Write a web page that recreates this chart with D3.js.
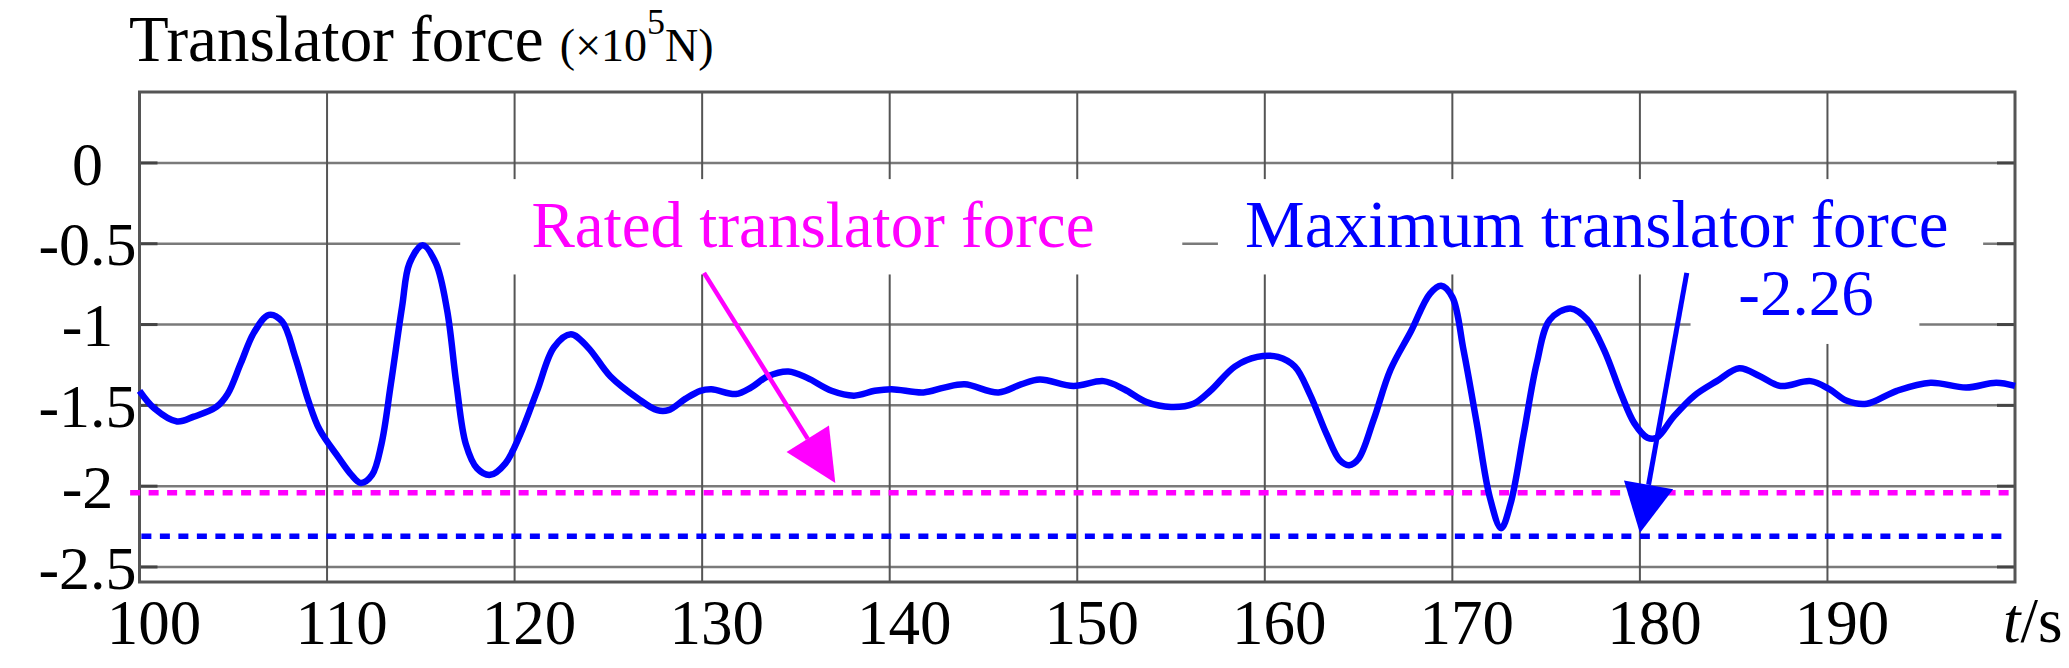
<!DOCTYPE html>
<html>
<head>
<meta charset="utf-8">
<script src="https://cdn.jsdelivr.net/npm/d3@7"></script>
<style>
  html, body { margin: 0; padding: 0; background: #fff; }
  svg { display: block; }
  text { font-family: "Liberation Serif", "Times New Roman", serif; }
</style>
</head>
<body>
<div id="chart"></div>
<script>
// time axis (s) and translator force (x10^5 N)
const timeValues = [
  100.0, 100.8, 102.0, 102.9, 104.1, 104.7, 105.4, 106.1, 106.9, 107.6,
  108.3, 109.0, 109.6, 110.6, 111.3, 111.8, 112.4, 112.9, 113.4, 114.0,
  114.4, 115.1, 115.8, 116.4, 116.9, 117.4, 118.0, 118.7, 119.5, 120.3,
  121.2, 122.1, 123.0, 123.9, 125.1, 126.6, 127.6, 128.2, 129.1, 129.9,
  130.5, 131.8, 132.6, 133.5, 134.6, 135.6, 136.9, 138.1, 139.2, 140.1,
  141.8, 142.9, 144.0, 145.8, 147.0, 148.0, 149.8, 151.4, 152.5, 153.7,
  155.0, 156.2, 157.1, 158.4, 159.6, 160.7, 161.6, 162.4, 163.3, 164.0,
  164.5, 165.0, 165.8, 166.7, 167.8, 168.8, 169.4, 170.0, 170.6, 171.3,
  172.0, 172.6, 173.1, 173.8, 174.5, 175.2, 176.3, 177.2, 178.1, 179.0,
  179.7, 180.4, 180.9, 181.8, 182.9, 184.1, 185.3, 186.4, 187.5, 189.1,
  190.1, 191.0, 192.1, 193.7, 195.5, 197.4, 199.0, 200.0
];
const forceValues = [
  -1.41, -1.52, -1.60, -1.57, -1.51, -1.43, -1.24, -1.05, -0.94, -0.98,
  -1.20, -1.47, -1.65, -1.82, -1.93, -1.98, -1.93, -1.74, -1.37, -0.89,
  -0.62, -0.51, -0.62, -0.91, -1.37, -1.74, -1.89, -1.93, -1.86, -1.68,
  -1.41, -1.14, -1.06, -1.14, -1.32, -1.46, -1.53, -1.53, -1.46, -1.41,
  -1.40, -1.43, -1.39, -1.32, -1.29, -1.33, -1.41, -1.44, -1.41, -1.40,
  -1.42, -1.39, -1.37, -1.42, -1.37, -1.34, -1.38, -1.35, -1.40, -1.48,
  -1.51, -1.49, -1.41, -1.26, -1.20, -1.20, -1.26, -1.43, -1.68, -1.84,
  -1.87, -1.83, -1.59, -1.28, -1.04, -0.81, -0.76, -0.83, -1.16, -1.61,
  -2.07, -2.26, -2.11, -1.68, -1.24, -0.97, -0.90, -0.97, -1.16, -1.43,
  -1.61, -1.70, -1.70, -1.57, -1.44, -1.35, -1.27, -1.32, -1.38, -1.35,
  -1.40, -1.47, -1.49, -1.41, -1.36, -1.39, -1.36, -1.38
];

const xTicks = [100, 110, 120, 130, 140, 150, 160, 170, 180, 190];
const yTicks = [0, -0.5, -1, -1.5, -2, -2.5];

const ratedLevel = -2.04;   // dotted magenta reference line
const maxLevel = -2.31;     // dotted blue reference line

const W = 2069, H = 668;
const margin = { top: 92, right: 54, bottom: 86, left: 139.5 };
const w = W - margin.left - margin.right;
const h = H - margin.top - margin.bottom;

const x = d3.scaleLinear().domain([100, 200]).range([0, w]);
const y = d3.scaleLinear().domain([-2.593, 0.439]).range([h, 0]);

const svg = d3.select("#chart").append("svg")
    .attr("width", W)
    .attr("height", H);

svg.append("rect").attr("width", W).attr("height", H).attr("fill", "#fff");

const g = svg.append("g")
    .attr("transform", `translate(${margin.left},${margin.top})`);

// grid
g.append("g").selectAll("line")
    .data(yTicks)
    .join("line")
    .attr("x1", 0).attr("x2", w)
    .attr("y1", d => y(d)).attr("y2", d => y(d))
    .attr("stroke", "#7a7a7a")
    .attr("stroke-width", 2.5);

g.append("g").selectAll("line")
    .data(xTicks.slice(1))
    .join("line")
    .attr("x1", d => x(d)).attr("x2", d => x(d))
    .attr("y1", 0).attr("y2", h)
    .attr("stroke", "#555")
    .attr("stroke-width", 2);

// short inward ticks on left and right borders
g.append("g").selectAll("line")
    .data(yTicks)
    .join("line")
    .attr("x1", 0).attr("x2", 18)
    .attr("y1", d => y(d)).attr("y2", d => y(d))
    .attr("stroke", "#444").attr("stroke-width", 3);
g.append("g").selectAll("line")
    .data(yTicks)
    .join("line")
    .attr("x1", w - 18).attr("x2", w)
    .attr("y1", d => y(d)).attr("y2", d => y(d))
    .attr("stroke", "#444").attr("stroke-width", 3);

// white panels behind the annotation texts (they cut the grid)
const gaps = [
    { t0: 117.1, t1: 155.6, v0: -0.10, v1: -0.69 },
    { t0: 157.5, t1: 198.3, v0: -0.10, v1: -0.69 },
    { t0: 182.7, t1: 194.9, v0: -0.69, v1: -1.12 }
];
g.append("g").selectAll("rect")
    .data(gaps)
    .join("rect")
    .attr("x", d => x(d.t0))
    .attr("y", d => y(d.v0))
    .attr("width", d => x(d.t1) - x(d.t0))
    .attr("height", d => y(d.v1) - y(d.v0))
    .attr("fill", "#fff");

// frame
g.append("rect")
    .attr("width", w).attr("height", h)
    .attr("fill", "none")
    .attr("stroke", "#555")
    .attr("stroke-width", 3);

// reference lines
g.append("line")
    .attr("x1", x(99.5)).attr("x2", x(200))
    .attr("y1", y(ratedLevel)).attr("y2", y(ratedLevel))
    .attr("stroke", "#ff00ff")
    .attr("stroke-width", 5.5)
    .attr("stroke-dasharray", "10 8.5");
g.append("line")
    .attr("x1", x(100.1)).attr("x2", x(199.6))
    .attr("y1", y(maxLevel)).attr("y2", y(maxLevel))
    .attr("stroke", "#0000ff")
    .attr("stroke-width", 5.5)
    .attr("stroke-dasharray", "10 8.5");

// force curve
const data = timeValues.map((t, i) => ({ t, v: forceValues[i] }));
const line = d3.line()
    .x(d => x(d.t))
    .y(d => y(d.v))
    .curve(d3.curveCatmullRom.alpha(0.5));

g.append("path")
    .datum(data)
    .attr("d", line)
    .attr("fill", "none")
    .attr("stroke", "#0000ff")
    .attr("stroke-width", 6.5)
    .attr("stroke-linejoin", "round");

// arrows
function arrow(from, to, color, width, headLen, headW) {
    const x1 = x(from[0]), y1 = y(from[1]);
    const x2 = x(to[0]), y2 = y(to[1]);
    const len = Math.hypot(x2 - x1, y2 - y1);
    const ux = (x2 - x1) / len, uy = (y2 - y1) / len;
    const bx = x2 - ux * headLen, by = y2 - uy * headLen;
    g.append("line")
        .attr("x1", x1).attr("y1", y1)
        .attr("x2", bx).attr("y2", by)
        .attr("stroke", color).attr("stroke-width", width);
    g.append("path")
        .attr("d", `M${x2},${y2}L${bx - uy * headW / 2},${by + ux * headW / 2}L${bx + uy * headW / 2},${by - ux * headW / 2}Z`)
        .attr("fill", color);
}
arrow([130.1, -0.68], [137.1, -1.98], "#ff00ff", 4.5, 52, 50);
arrow([182.5, -0.68], [180.0, -2.29], "#0000ff", 5, 49, 50);

// annotation texts
g.append("text")
    .attr("x", x(120.9)).attr("y", y(-0.52))
    .attr("font-size", 65).attr("fill", "#ff00ff")
    .text("Rated translator force");
g.append("text")
    .attr("x", x(158.95)).attr("y", y(-0.523))
    .attr("font-size", 67).attr("fill", "#0000ff")
    .text("Maximum translator force");
g.append("text")
    .attr("x", x(185.25)).attr("y", y(-0.943))
    .attr("font-size", 65).attr("fill", "#0000ff")
    .text("-2.26");

// axes (labels only)
const yAxis = g.append("g")
    .call(d3.axisLeft(y).tickValues(yTicks).tickSize(0).tickFormat(d => String(d)));
yAxis.select(".domain").remove();
yAxis.selectAll("text")
    .attr("x", -52)
    .attr("dy", "0.34em")
    .attr("text-anchor", "middle")
    .attr("font-family", "Liberation Serif, Times New Roman, serif")
    .attr("font-size", 62)
    .attr("fill", "#000");

const xAxis = g.append("g")
    .attr("transform", `translate(0,${h})`)
    .call(d3.axisBottom(x).tickValues(xTicks).tickSize(0).tickPadding(17).tickFormat(d => String(d)));
xAxis.select(".domain").remove();
xAxis.selectAll("text")
    .attr("dx", 14)
    .attr("font-family", "Liberation Serif, Times New Roman, serif")
    .attr("font-size", 63)
    .attr("fill", "#000");

// unit label on x
const xl = svg.append("text")
    .attr("x", 2003).attr("y", 642)
    .attr("font-size", 63).attr("fill", "#000");
xl.append("tspan").attr("font-style", "italic").text("t");
xl.append("tspan").text("/s");

// title
const title = svg.append("text")
    .attr("x", 129).attr("y", 61)
    .attr("fill", "#000");
title.append("tspan").attr("font-size", 65).text("Translator force ");
title.append("tspan").attr("font-size", 46).text("(×10");
title.append("tspan").attr("font-size", 36).attr("dy", -27).text("5");
title.append("tspan").attr("font-size", 46).attr("dy", 27).text("N)");
</script>
</body>
</html>
